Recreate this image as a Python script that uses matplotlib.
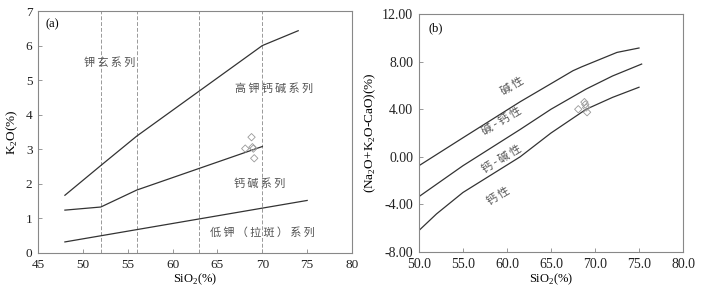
import matplotlib
matplotlib.use("Agg")
import matplotlib.pyplot as plt

plt.rcParams['font.family'] = ['Liberation Serif', 'Noto Sans CJK SC']
plt.rcParams['mathtext.fontset'] = 'custom'
plt.rcParams['mathtext.rm'] = 'Liberation Serif'

# (a) K2O - SiO2 boundaries
sio2_upper = [48, 52, 56, 70, 74]
k2o_upper = [1.67, 2.53, 3.38, 6.0, 6.43]
sio2_mid = [48, 52, 56, 70]
k2o_mid = [1.24, 1.33, 1.82, 3.08]
sio2_low = [48, 75]
k2o_low = [0.32, 1.52]
dashed_x = [52, 56, 63, 70]

# samples
sio2_pts = [68.8, 68.1, 68.9, 69.0, 69.1]
k2o_pts = [3.35, 3.02, 3.06, 3.02, 2.74]
mali_pts = [4.6, 4.0, 4.4, 4.15, 3.75]

# (b) MALI boundaries
sio2_b1 = [50, 55, 61.5, 65, 67.5, 68.5, 72.5, 75]
mali_b1 = [-0.75, 1.6, 4.63, 6.15, 7.24, 7.57, 8.78, 9.15]
sio2_b2 = [50, 55, 61.5, 65, 69, 72, 75.3]
mali_b2 = [-3.35, -0.75, 2.3, 4.0, 5.7, 6.8, 7.8]
sio2_b3 = [50, 52, 55, 61.5, 65, 69, 72, 75]
mali_b3 = [-6.2, -4.8, -3.0, 0.0, 2.0, 4.0, 5.0, 5.85]

line_c = '#333333'
grey = '#888888'
txt_c = '#555555'
cjk = ['Noto Sans CJK SC', 'DejaVu Sans']


def spaced(s):
    # the original labels are letter-spaced
    return '\u2009'.join(s)


fig = plt.figure(figsize=(7.1, 2.94), dpi=100)
ax1 = fig.add_axes([0.0535, 0.1395, 0.4423, 0.823])
ax2 = fig.add_axes([0.590, 0.143, 0.372, 0.809])

for ax, ls in ((ax1, 9.5), (ax2, 10)):
    for s in ax.spines.values():
        s.set_color(grey)
        s.set_linewidth(0.8)
    ax.tick_params(direction='in', length=3, width=0.6, color=grey,
                   labelsize=ls, labelcolor='#222222', pad=4)

# panel a
for x in dashed_x:
    ax1.axvline(x, color='#999999', lw=0.7, ls=(0, (4, 2)))
ax1.plot(sio2_upper, k2o_upper, color=line_c, lw=0.9)
ax1.plot(sio2_mid, k2o_mid, color=line_c, lw=0.9)
ax1.plot(sio2_low, k2o_low, color=line_c, lw=0.9)
ax1.scatter(sio2_pts, k2o_pts, marker='D', s=14, facecolor='none',
            edgecolor='#999999', linewidth=0.6, zorder=3)
ax1.set_xlim(45, 80)
ax1.set_ylim(0, 7)
ax1.set_xticks(range(45, 81, 5))
ax1.set_yticks(range(0, 8))
ax1.set_xlabel('SiO$_2$(%)', fontsize=9, labelpad=1)
ax1.set_ylabel('K$_2$O(%)', fontsize=9.5, labelpad=4)
ax1.text(0.025, 0.97, '(a)', transform=ax1.transAxes, fontsize=9, va='top')
ax1.text(53.0, 5.5, spaced('钾玄系列'), family=cjk, fontsize=8, color=txt_c, ha='center', va='center')
ax1.text(71.3, 4.77, spaced('高钾钙碱系列'), family=cjk, fontsize=8, color=txt_c, ha='center', va='center')
ax1.text(69.7, 2.02, spaced('钙碱系列'), family=cjk, fontsize=8, color=txt_c, ha='center', va='center')
ax1.text(70.0, 0.6, spaced('低钾（拉斑）系列'), family=cjk, fontsize=8, color=txt_c, ha='center', va='center')

# panel b
ax2.plot(sio2_b1, mali_b1, color=line_c, lw=0.9)
ax2.plot(sio2_b2, mali_b2, color=line_c, lw=0.9)
ax2.plot(sio2_b3, mali_b3, color=line_c, lw=0.9)
ax2.scatter(sio2_pts, mali_pts, marker='D', s=14, facecolor='none',
            edgecolor='#999999', linewidth=0.6, zorder=3)
ax2.set_xlim(50, 80)
ax2.set_ylim(-8, 12)
ax2.set_xticks([50, 55, 60, 65, 70, 75, 80])
ax2.set_xticklabels(['%.1f' % v for v in [50, 55, 60, 65, 70, 75, 80]])
ax2.set_yticks([-8, -4, 0, 4, 8, 12])
ax2.set_yticklabels(['-8.00', '-4.00', '0.00', '4.00', '8.00', '12.00'])
ax2.set_xlabel('SiO$_2$(%)', fontsize=9, labelpad=1)
ax2.set_ylabel('(Na$_2$O+K$_2$O-CaO)(%)', fontsize=9.5, labelpad=3)
ax2.text(0.035, 0.965, '(b)', transform=ax2.transAxes, fontsize=9, va='top')
ax2.text(60.6, 5.95, spaced('碱性'), family=cjk, fontsize=8, color=txt_c, ha='center', va='center', rotation=31)
ax2.text(59.4, 3.0, spaced('碱-钙性'), family=cjk, fontsize=8, color=txt_c, ha='center', va='center', rotation=31)
ax2.text(59.4, -0.2, spaced('钙-碱性'), family=cjk, fontsize=8, color=txt_c, ha='center', va='center', rotation=31)
ax2.text(59.0, -3.3, spaced('钙性'), family=cjk, fontsize=8, color=txt_c, ha='center', va='center', rotation=31)

fig.savefig('out.png', dpi=100)
